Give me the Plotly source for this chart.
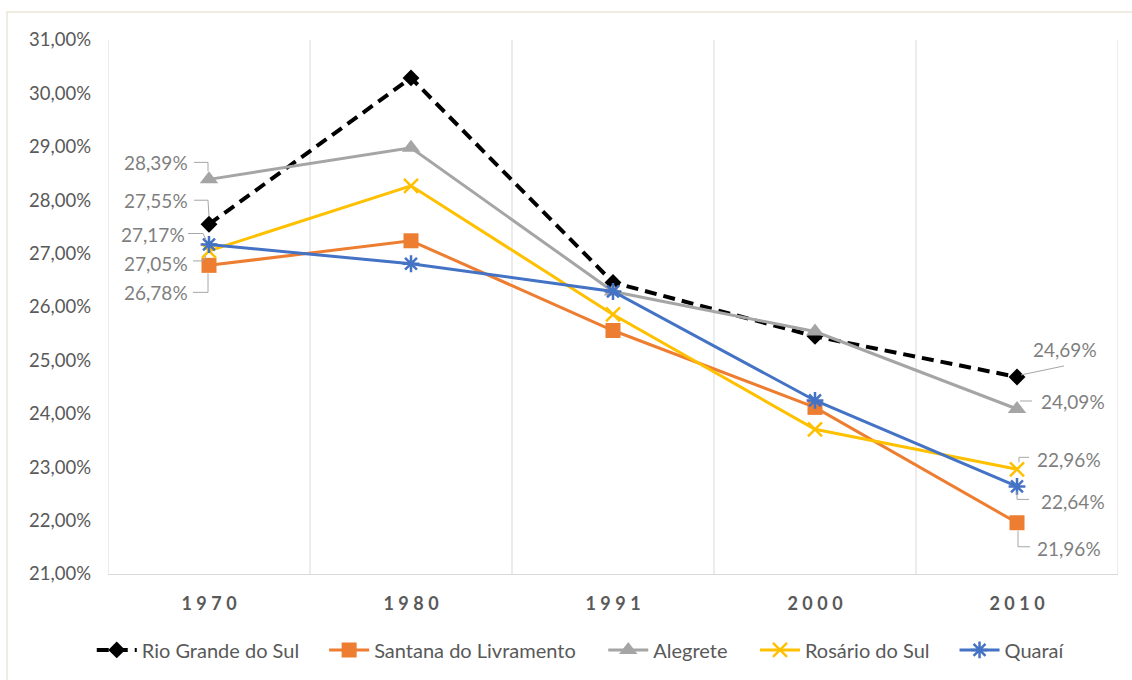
import plotly.graph_objects as go

years = ["1970", "1980", "1991", "2000", "2010"]
rio_grande = [27.55, 30.29, 26.46, 25.45, 24.69]
santana = [26.78, 27.24, 25.56, 24.12, 21.96]
alegrete = [28.39, 28.98, 26.29, 25.54, 24.09]
rosario = [27.05, 28.27, 25.86, 23.71, 22.96]
quarai = [27.17, 26.81, 26.29, 24.25, 22.64]
y_ticks = [21, 22, 23, 24, 25, 26, 27, 28, 29, 30, 31]

FONT = "Lato, 'Open Sans', sans-serif"
LABEL_GREY = "#7F7F7F"
LEADER_GREY = "#A6A6A6"

series = [
    dict(name="Rio Grande do Sul", y=rio_grande, color="#000000", dash="12px,7px", width=4,
         symbol="diamond", size=13, mlw=0, pad=2),
    dict(name="Santana do Livramento", y=santana, color="#ED7D31", dash="solid", width=3,
         symbol="square", size=15, mlw=0, pad=3),
    dict(name="Alegrete", y=alegrete, color="#A5A5A5", dash="solid", width=3,
         symbol="triangle-up", size=16, mlw=0, pad=3),
    dict(name="Rosário do Sul", y=rosario, color="#FFC000", dash="solid", width=3,
         symbol="x-thin-open", size=14, mlw=2.5, pad=2),
    dict(name="Quaraí", y=quarai, color="#4472C4", dash="solid", width=3,
         symbol="asterisk-open", size=14, mlw=2.5, pad=0),
]

x_idx = list(range(len(years)))

fig = go.Figure()
for s in series:
    fig.add_trace(go.Scatter(
        x=x_idx, y=s["y"], name=s["name"] + "\u2003" + "\u2009" * s["pad"], mode="lines+markers",
        line=dict(color=s["color"], width=s["width"], dash=s["dash"]),
        marker=dict(symbol=s["symbol"], size=s["size"], color=s["color"],
                    line=dict(color=s["color"], width=s["mlw"])),
    ))

def fmt(v):
    return f"{v:.2f}".replace(".", ",") + "%"

# label placement (pixel offsets; yshift up positive), leader path offsets (down positive)
left_labels = [
    (alegrete[0], -19, 17, [(-15, -17), (-1, -17), (-1, -8)]),
    (rio_grande[0], -19, 24, [(-15, -24), (-1, -24), (0, -8)]),
    (quarai[0], -22, 10, [(-21, -11), (-6, -11), (-3, -5)]),
    (rosario[0], -19, -13, [(-16, 10), (-6, 10), (-3, 5)]),
    (santana[0], -19, -27, [(-16, 27), (-1, 27), (-1, 8)]),
]
right_labels = [
    (rio_grande[-1], 14, 27, [(4, -2), (47, -11)]),
    (alegrete[-1], 22, 7, [(3, -8), (15, -8)]),
    (rosario[-1], 18, 10, [(2, -7), (2, -12), (12, -12)]),
    (quarai[-1], 22, -15, [(0, 5), (0, 13), (12, 13)]),
    (santana[-1], 18, -26, [(1, 8), (1, 24), (13, 24)]),
]

def leader(xi, val, pts):
    path = "M " + " L ".join(f"{dx},{-dy}" for dx, dy in pts)
    fig.add_shape(type="path", xref="x", yref="y", xsizemode="pixel", ysizemode="pixel",
                  xanchor=xi, yanchor=val, path=path,
                  line=dict(color=LEADER_GREY, width=1), layer="above")

for val, xs, ys, pts in left_labels:
    fig.add_annotation(x=0, y=val, xref="x", yref="y", text=fmt(val), showarrow=False,
                       xanchor="right", yanchor="middle", xshift=xs, yshift=ys,
                       font=dict(family=FONT, size=19, color=LABEL_GREY))
    leader(0, val, pts)

last = len(years) - 1
for val, xs, ys, pts in right_labels:
    fig.add_annotation(x=last, y=val, xref="x", yref="y", text=fmt(val), showarrow=False,
                       xanchor="left", yanchor="middle", xshift=xs, yshift=ys,
                       font=dict(family=FONT, size=19, color=LABEL_GREY))
    leader(last, val, pts)

# outer chart frame
fig.add_shape(type="rect", xref="paper", yref="paper", x0=-0.1, x1=1.03, y0=-0.25, y1=1.0523,
              line=dict(color="#EAE6D9", width=1.5), fillcolor="rgba(0,0,0,0)", layer="below")

spaced = ["\u2005".join(list(y)) for y in years]
y_text = [fmt(v) for v in y_ticks]

fig.update_layout(
    width=1132, height=680,
    margin=dict(l=108, r=14, t=40, b=105),
    paper_bgcolor="white", plot_bgcolor="white",
    font=dict(family=FONT, color="#595959"),
    showlegend=True,
    legend=dict(orientation="h", x=0.475, xanchor="center", y=-0.14, yanchor="middle",
                font=dict(family=FONT, size=20, color="#595959"),
                itemwidth=40, tracegroupgap=0),
    xaxis=dict(
        range=[-0.5, len(years) - 0.5], tickmode="array", tickvals=x_idx, ticktext=spaced,
        showgrid=False, zeroline=False, showline=True, linecolor="#D9D9D9", linewidth=1,
        ticks="", tickfont=dict(family=FONT, size=18, color="#595959", weight="bold"),
        ticklabelstandoff=13,
    ),
    yaxis=dict(
        range=[21, 31], tickmode="array", tickvals=y_ticks, ticktext=y_text,
        showgrid=False, zeroline=False, showline=False, ticks="",
        tickfont=dict(family=FONT, size=18.5, color="#595959"),
        ticklabelstandoff=16,
    ),
)

# vertical gridlines at category boundaries
for b in [i - 0.5 for i in range(len(years) + 1)]:
    fig.add_shape(type="line", xref="x", yref="paper", x0=b, x1=b, y0=0, y1=1,
                  line=dict(color="#D9D9D9", width=1), layer="below")

fig.write_html("out.html", config={"displayModeBar": False},
               post_script="document.body.style.margin='0';document.body.style.overflow='hidden';")
